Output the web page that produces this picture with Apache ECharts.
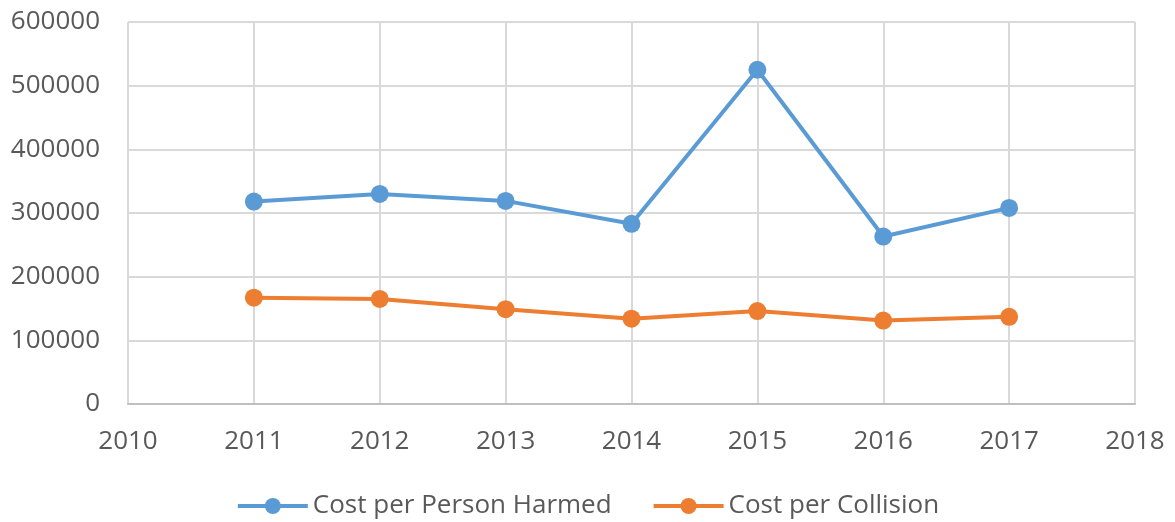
<!DOCTYPE html>
<html>
<head>
<meta charset="utf-8">
<script src="https://cdn.jsdelivr.net/npm/echarts@6/dist/echarts.min.js"></script>
<style>
html,body{margin:0;padding:0;background:#fff;}
#chart{width:1175px;height:522px;}
</style>
</head>
<body>
<div id="chart"></div>
<script>
var years = [2011, 2012, 2013, 2014, 2015, 2016, 2017];
var costPerPersonHarmed = [318000, 330000, 319000, 283000, 525000, 263000, 308000];
var costPerCollision = [167000, 165000, 149000, 134000, 146000, 131000, 137000];
var seriesNames = ['Cost per Person Harmed', 'Cost per Collision'];

function pairs(xs, ys) { return xs.map(function (x, i) { return [x, ys[i]]; }); }
function plain(v) { return String(v); }

var chart = echarts.init(document.getElementById('chart'));
var textColor = '#595959';
var font = 'Open Sans';
chart.setOption({
  animation: false,
  color: ['#5B9BD5', '#ED7D31'],
  grid: { left: 128, right: 40, top: 22, bottom: 118 },
  legend: {
    bottom: -2,
    left: 'center',
    itemWidth: 70,
    itemHeight: 20,
    itemGap: 40,
    lineStyle: { width: 4 },
    textStyle: { color: textColor, fontFamily: font, fontSize: 26 },
    data: seriesNames
  },
  xAxis: {
    type: 'value',
    min: 2010, max: 2018, interval: 1,
    axisLine: { show: true, lineStyle: { color: '#bfbfbf', width: 2 } },
    axisTick: { show: false },
    splitLine: { show: true, lineStyle: { color: '#d9d9d9', width: 2 } },
    axisLabel: { color: textColor, fontFamily: font, fontSize: 26, margin: 25, formatter: plain }
  },
  yAxis: {
    type: 'value',
    min: 0, max: 600000, interval: 100000,
    axisLine: { show: false },
    axisTick: { show: false },
    splitLine: { show: true, lineStyle: { color: '#d9d9d9', width: 2 } },
    axisLabel: { color: textColor, fontFamily: font, fontSize: 26, margin: 28, formatter: plain }
  },
  series: [
    {
      name: seriesNames[0], type: 'line', data: pairs(years, costPerPersonHarmed),
      symbol: 'circle', symbolSize: 18, lineStyle: { width: 4 }
    },
    {
      name: seriesNames[1], type: 'line', data: pairs(years, costPerCollision),
      symbol: 'circle', symbolSize: 18, lineStyle: { width: 4 }
    }
  ]
});
</script>
</body>
</html>
